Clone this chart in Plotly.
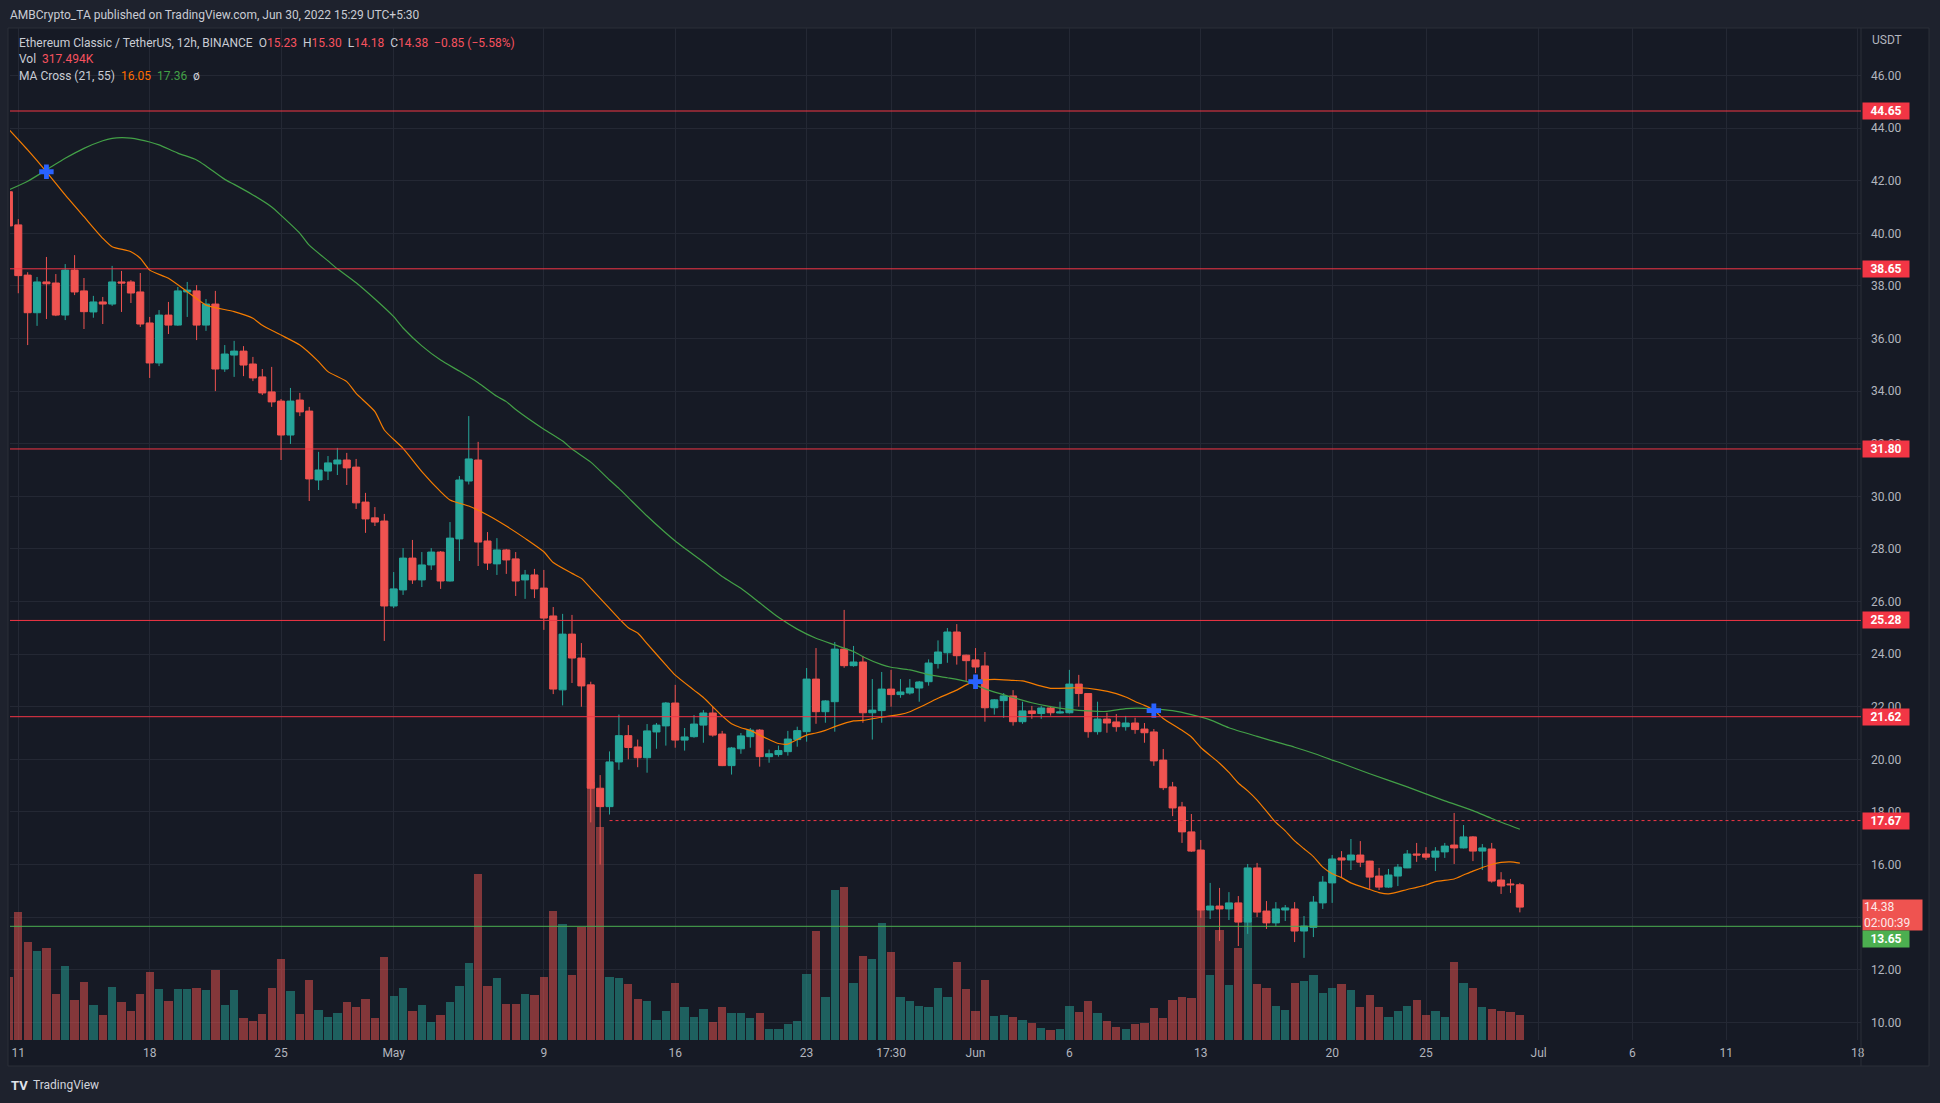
import pandas as pd
import plotly.graph_objects as go

# ETC/USDT 12h candles (Binance), first bar 10 Apr 2022 17:30 UTC+5:30
opens = [41.58, 40.32, 38.41, 36.98, 38.15, 38.11, 36.89, 38.60, 37.81, 37.01,
         37.39, 37.31, 38.15, 38.15, 37.77, 36.59, 35.07, 36.89, 36.51, 37.77,
         37.81, 36.51, 37.31, 34.84, 35.37, 35.52, 35.03, 34.54, 33.97, 33.62,
         32.33, 33.66, 33.24, 30.62, 30.96, 31.23, 31.38, 31.11, 29.78, 29.18,
         29.06, 25.83, 26.44, 27.65, 26.82, 27.39, 27.88, 26.78, 28.38, 30.58,
         31.38, 28.30, 27.43, 27.96, 27.62, 26.82, 27.01, 26.51, 25.45, 22.64,
         24.76, 23.85, 22.83, 18.90, 18.20, 19.90, 20.90, 20.47, 20.06, 21.04,
         21.27, 22.14, 20.73, 20.86, 21.30, 21.76, 20.96, 19.76, 20.40, 20.86,
         21.11, 20.10, 20.18, 20.29, 20.75, 21.05, 23.05, 21.81, 22.19, 24.19,
         23.56, 23.70, 21.77, 21.85, 22.67, 22.46, 22.52, 22.71, 22.95, 23.64,
         24.05, 24.84, 23.96, 23.78, 23.55, 21.96, 22.23, 22.41, 21.43, 21.84,
         21.74, 21.95, 21.76, 21.77, 22.86, 22.50, 21.05, 21.53, 21.42, 21.24,
         21.38, 21.15, 21.04, 19.97, 18.95, 18.19, 17.24, 16.55, 14.27, 14.42,
         14.31, 14.54, 13.81, 15.87, 14.23, 13.78, 14.27, 14.31, 13.47, 13.61,
         14.54, 15.30, 16.25, 16.17, 16.36, 16.13, 15.56, 15.14, 15.56, 15.87,
         16.40, 16.40, 16.28, 16.48, 16.74, 16.63, 17.05, 16.51, 16.59, 15.41,
         15.26, 15.23]
highs = [41.75, 40.54, 38.52, 38.34, 39.10, 38.45, 38.83, 39.17, 38.30, 37.62,
         37.58, 38.76, 38.57, 38.22, 38.49, 36.82, 37.08, 37.39, 37.96, 38.15,
         38.03, 37.50, 37.81, 35.75, 35.91, 35.71, 35.30, 34.84, 34.92, 33.70,
         34.12, 33.93, 33.40, 31.69, 31.53, 31.84, 31.65, 31.42, 30.13, 29.59,
         29.33, 27.12, 28.03, 28.34, 27.88, 28.03, 27.92, 29.02, 30.77, 33.05,
         32.07, 28.64, 28.41, 28.00, 27.88, 27.20, 27.24, 27.20, 25.79, 25.53,
         25.49, 24.42, 22.95, 19.40, 20.30, 21.70, 21.30, 20.75, 21.34, 21.38,
         22.18, 22.83, 21.19, 21.68, 21.87, 21.99, 21.08, 20.47, 21.00, 21.19,
         21.15, 20.37, 20.52, 21.08, 21.24, 23.47, 24.23, 22.25, 24.46, 25.68,
         24.31, 23.93, 23.05, 23.32, 23.40, 23.05, 23.05, 22.98, 23.80, 24.52,
         24.99, 25.14, 23.98, 24.23, 24.08, 22.29, 22.52, 22.63, 22.19, 22.03,
         22.03, 22.03, 22.19, 23.40, 23.21, 22.52, 22.19, 21.77, 21.72, 21.65,
         21.58, 21.38, 21.15, 20.39, 19.14, 18.38, 17.92, 16.93, 15.30, 15.11,
         14.95, 14.80, 16.02, 16.06, 14.61, 14.57, 14.46, 14.57, 14.04, 14.80,
         15.56, 16.36, 16.51, 16.97, 16.89, 16.14, 15.87, 15.83, 16.02, 16.55,
         16.82, 16.66, 16.66, 16.82, 17.96, 17.50, 17.08, 16.78, 16.82, 15.71,
         15.45, 15.30]
lows = [40.20, 37.72, 35.75, 36.48, 36.74, 36.85, 36.70, 37.65, 36.36, 36.79,
        36.55, 37.24, 37.01, 37.35, 36.44, 34.50, 34.95, 36.17, 36.48, 36.82,
        35.94, 36.29, 34.00, 34.73, 34.54, 34.57, 34.38, 33.85, 33.40, 31.38,
        31.99, 33.05, 29.82, 30.24, 30.62, 30.81, 30.43, 29.52, 28.61, 28.87,
        24.50, 25.75, 26.25, 26.67, 26.55, 27.20, 26.48, 26.76, 27.54, 30.45,
        27.35, 27.20, 27.01, 27.05, 26.21, 26.10, 26.13, 24.92, 22.48, 22.05,
        22.90, 22.00, 17.60, 16.00, 17.90, 19.60, 20.00, 19.70, 19.49, 20.40,
        20.52, 20.44, 20.33, 20.82, 20.63, 20.86, 19.74, 19.42, 20.21, 20.44,
        19.72, 19.87, 20.10, 20.14, 20.48, 20.67, 21.35, 21.39, 21.05, 23.48,
        23.52, 21.39, 20.75, 21.39, 22.00, 22.34, 22.46, 22.19, 22.80, 23.45,
        23.67, 23.60, 22.98, 23.28, 21.43, 21.70, 21.58, 21.28, 21.35, 21.54,
        21.54, 21.66, 21.74, 21.74, 22.00, 20.82, 20.94, 21.01, 21.05, 21.09,
        20.97, 20.63, 19.75, 18.83, 17.84, 16.82, 16.48, 13.97, 13.93, 13.09,
        13.89, 12.90, 13.36, 14.00, 13.55, 13.66, 13.85, 13.05, 12.45, 13.24,
        14.31, 14.54, 15.52, 15.79, 15.90, 15.07, 15.03, 15.11, 15.18, 15.86,
        16.10, 16.17, 15.75, 16.25, 16.02, 16.61, 16.13, 15.79, 15.31, 14.88,
        14.92, 14.18]
closes = [40.28, 38.39, 36.98, 38.15, 38.08, 36.89, 38.60, 37.77, 37.02, 37.39,
          37.31, 38.15, 38.11, 37.73, 36.55, 35.07, 36.89, 36.51, 37.81, 37.84,
          36.51, 37.31, 34.84, 35.41, 35.52, 34.99, 34.50, 33.93, 33.59, 32.33,
          33.62, 33.21, 30.66, 31.00, 31.27, 31.38, 31.08, 29.75, 29.14, 29.02,
          25.83, 26.48, 27.65, 26.82, 27.39, 27.88, 26.78, 28.41, 30.62, 31.42,
          28.26, 27.46, 27.96, 27.58, 26.78, 27.01, 26.48, 25.37, 22.67, 24.76,
          23.85, 22.79, 18.90, 18.20, 19.90, 20.90, 20.45, 20.06, 21.08, 21.30,
          22.14, 20.73, 20.85, 21.34, 21.76, 20.92, 19.76, 20.43, 20.89, 21.11,
          20.10, 20.21, 20.33, 20.77, 21.09, 23.05, 21.81, 22.22, 24.19, 23.56,
          23.70, 21.77, 21.87, 22.67, 22.46, 22.56, 22.71, 22.94, 23.66, 24.08,
          24.84, 23.94, 23.75, 23.51, 21.96, 22.26, 22.41, 21.43, 21.84, 21.74,
          21.95, 21.77, 21.80, 22.86, 22.50, 21.05, 21.53, 21.38, 21.24, 21.38,
          21.13, 21.01, 19.94, 18.92, 18.15, 17.24, 16.51, 14.27, 14.42, 14.31,
          14.54, 13.81, 15.87, 14.19, 13.78, 14.31, 14.35, 13.47, 13.66, 14.57,
          15.33, 16.21, 16.17, 16.36, 16.09, 15.52, 15.14, 15.60, 15.90, 16.40,
          16.36, 16.28, 16.51, 16.70, 16.63, 17.05, 16.51, 16.63, 15.37, 15.18,
          15.23, 14.38]
# volume in thousands of ETC
volumes_k = [804, 1625, 1245, 1130, 1168, 584, 940, 508, 737, 444,
             317, 673, 483, 368, 584, 864, 648, 495, 648, 648,
             660, 635, 889, 444, 635, 279, 241, 330, 660, 1029,
             622, 330, 762, 381, 292, 343, 483, 419, 521, 279,
             1054, 559, 660, 368, 444, 229, 317, 483, 686, 978,
             2108, 686, 787, 457, 457, 584, 571, 800, 1638, 1473,
             825, 1435, 3280, 2700, 800, 787, 711, 521, 495, 254,
             368, 724, 419, 292, 394, 229, 419, 343, 343, 279,
             343, 140, 140, 203, 241, 838, 1384, 546, 1905, 1943,
             724, 1067, 1029, 1486, 1118, 546, 495, 432, 419, 660,
             546, 991, 648, 368, 762, 305, 317, 292, 254, 216,
             152, 127, 140, 432, 356, 495, 343, 241, 165, 140,
             203, 216, 406, 279, 508, 546, 533, 1664, 825, 1397,
             698, 1168, 1545, 711, 660, 432, 381, 724, 749, 825,
             597, 660, 711, 635, 419, 571, 419, 292, 368, 432,
             508, 317, 368, 292, 991, 724, 660, 419, 394, 368,
             356, 317]

# MA Cross (21, 55) at these bar numbers
ma_fast_idx = [0, 2, 4, 6, 8, 10, 11, 13, 14, 15, 17, 19, 21, 24, 26, 27, 29, 31, 33, 34,
               36, 37, 39, 40, 42, 44, 46, 47, 49, 51, 53, 55, 57, 58, 60, 61, 62, 64, 65, 66,
               67, 68, 70, 71, 73, 74, 75, 76, 77, 78, 79, 80, 81, 82, 83, 84, 85, 86, 87, 88,
               90, 91, 93, 95, 96, 97, 99, 101, 102, 103, 105, 107, 108, 110, 111, 113, 114, 116, 118, 119,
               120, 121, 122, 123, 125, 126, 127, 129, 130, 131, 132, 133, 135, 136, 137, 138, 139, 140, 141, 142,
               143, 145, 146, 147, 149, 150, 151, 152, 154, 155, 156, 158, 159, 160, 161]
ma_fast = [43.95, 43.17, 42.34, 41.46, 40.63, 39.81, 39.49, 39.30, 39.05, 38.60, 38.29, 37.78, 37.27, 37.02, 36.77, 36.50, 36.13, 35.75, 35.12, 34.74,
           34.36, 33.91, 33.22, 32.52, 31.82, 30.94, 30.18, 29.86, 29.63, 29.29, 28.87, 28.40, 27.89, 27.48, 27.07, 26.88, 26.50, 25.74, 25.35, 25.00,
           24.80, 24.40, 23.59, 23.20, 22.63, 22.35, 22.00, 21.65, 21.35, 21.20, 21.10, 20.92, 20.75, 20.60, 20.58, 20.75, 20.92, 21.00, 21.10, 21.24,
           21.46, 21.48, 21.60, 21.71, 21.81, 21.97, 22.32, 22.63, 22.83, 22.98, 23.04, 23.00, 22.98, 22.78, 22.70, 22.71, 22.72, 22.65, 22.50, 22.37,
           22.20, 22.05, 21.87, 21.55, 21.10, 20.85, 20.45, 19.85, 19.50, 19.10, 18.80, 18.45, 17.60, 17.28, 16.90, 16.60, 16.30, 15.90, 15.65, 15.50,
           15.30, 15.05, 14.93, 14.88, 15.05, 15.13, 15.22, 15.35, 15.45, 15.60, 15.75, 16.00, 16.08, 16.10, 16.05]
ma_slow_idx = [0, 2, 4, 6, 8, 10, 11, 12, 13, 15, 16, 18, 20, 21, 23, 24, 26, 28, 29, 31,
               32, 34, 35, 37, 39, 41, 42, 44, 46, 48, 50, 52, 53, 54, 57, 59, 60, 62, 64, 65,
               66, 68, 71, 74, 76, 78, 80, 82, 84, 86, 88, 90, 91, 93, 94, 96, 98, 100, 102, 104,
               107, 109, 111, 113, 115, 117, 119, 121, 122, 124, 126, 128, 130, 133, 135, 137, 139, 141, 142, 145,
               149, 153, 156, 158, 161]
ma_slow = [41.65, 41.98, 42.41, 42.85, 43.23, 43.52, 43.61, 43.64, 43.62, 43.47, 43.36, 43.05, 42.79, 42.56, 42.05, 41.86, 41.46, 41.00, 40.68, 40.00,
           39.55, 38.95, 38.65, 38.12, 37.50, 36.83, 36.40, 35.72, 35.18, 34.76, 34.32, 33.80, 33.60, 33.30, 32.55, 32.10, 31.80, 31.30, 30.62, 30.30,
           29.95, 29.25, 28.30, 27.50, 26.95, 26.50, 25.95, 25.40, 24.95, 24.60, 24.35, 24.10, 23.90, 23.60, 23.50, 23.40, 23.22, 23.10, 22.96, 22.68,
           22.35, 22.15, 22.00, 21.90, 21.84, 21.82, 21.93, 21.94, 21.92, 21.85, 21.70, 21.50, 21.20, 20.87, 20.66, 20.46, 20.23, 19.97, 19.85, 19.45,
           18.95, 18.42, 18.05, 17.75, 17.34]
cross_idx = [4, 103, 122]
cross_price = [42.34, 22.95, 21.85]

# drawn levels
red_levels = [44.65, 38.65, 31.80, 25.28, 21.62]
dotted_level = 17.67
dotted_start = "2022-05-12 17:30"
green_level = 13.65

tick_dates = ["2022-04-11 05:30", "2022-04-18 05:30", "2022-04-25 05:30", "2022-05-01 05:30",
              "2022-05-09 05:30", "2022-05-16 05:30", "2022-05-23 05:30", "2022-05-27 17:30",
              "2022-06-01 05:30", "2022-06-06 05:30", "2022-06-13 05:30", "2022-06-20 05:30",
              "2022-06-25 05:30", "2022-07-01 05:30", "2022-07-06 05:30", "2022-07-11 05:30",
              "2022-07-18 05:30"]
tick_text = ["11", "18", "25", "May", "9", "16", "23", "17:30", "Jun", "6", "13", "20",
             "25", "Jul", "6", "11", "18"]
price_ticks = list(range(10, 48, 2))

times = pd.date_range("2022-04-10 17:30", periods=len(closes), freq="12h")

UP = "#26a69a"
DOWN = "#ef5350"
UP_VOL = "rgba(38,166,154,0.5)"
DOWN_VOL = "rgba(239,83,80,0.5)"
LINE_RED = "#f23645"
LINE_GREEN = "#4caf50"
OUTER = "#1e222d"
PANE = "#161a25"
GRID = "#242834"
TEXT = "#b2b5be"
FONT = "Roboto, Liberation Sans, sans-serif"

W, H = 1940, 1103
L, R, T, B = 10, 79, 28, 63
PW, PH = W - L - R, H - T - B


def px(x):
    return (x - L) / PW


def py(y):
    return (H - B - y) / PH


fig = go.Figure()

vol_colors = [UP_VOL if c >= o else DOWN_VOL for o, c in zip(opens, closes)]
fig.add_trace(go.Bar(
    x=times, y=volumes_k, marker=dict(color=vol_colors, line=dict(width=0)),
    width=0.88 * 12 * 3600 * 1000, yaxis="y", hoverinfo="skip"
))

fig.add_trace(go.Candlestick(
    x=times, open=opens, high=highs, low=lows, close=closes, yaxis="y2",
    increasing=dict(line=dict(color=UP, width=1), fillcolor=UP),
    decreasing=dict(line=dict(color=DOWN, width=1), fillcolor=DOWN),
    whiskerwidth=0
))

fig.add_trace(go.Scatter(
    x=[times[i] for i in ma_fast_idx], y=ma_fast, yaxis="y2", mode="lines",
    line=dict(color="#f57c00", width=1.2, shape="spline", smoothing=0.6), hoverinfo="skip"
))
fig.add_trace(go.Scatter(
    x=[times[i] for i in ma_slow_idx], y=ma_slow, yaxis="y2", mode="lines",
    line=dict(color="#43a047", width=1.2, shape="spline", smoothing=0.6), hoverinfo="skip"
))
fig.add_trace(go.Scatter(
    x=[times[i] for i in cross_idx], y=cross_price, yaxis="y2", mode="markers",
    marker=dict(symbol="cross", size=12, color="#2962ff", line=dict(width=0)), hoverinfo="skip"
))

shapes = []
# chart frame
shapes.append(dict(type="rect", xref="paper", yref="paper", x0=px(8), x1=px(1929), y0=py(1066), y1=py(28),
                   fillcolor=PANE, line=dict(color="#2a2e39", width=1), layer="below"))
shapes.append(dict(type="line", xref="paper", yref="paper", x0=px(1861), x1=px(1861), y0=py(1066), y1=py(28),
                   line=dict(color="#2a2e39", width=1)))
for lv in red_levels:
    shapes.append(dict(type="line", xref="paper", yref="y2", x0=0, x1=1, y0=lv, y1=lv,
                       line=dict(color=LINE_RED, width=1)))
shapes.append(dict(type="line", xref="x", yref="y2", x0=dotted_start, x1=times[-1] + pd.Timedelta(days=60),
                   y0=dotted_level, y1=dotted_level, line=dict(color=LINE_RED, width=1, dash="dot")))
shapes.append(dict(type="line", xref="paper", yref="y2", x0=0, x1=1, y0=green_level, y1=green_level,
                   line=dict(color=LINE_GREEN, width=1)))

annotations = []
RED_TXT = "#f7525f"
sp = "\u00a0\u00a0"


def red(s):
    return f"<span style='color:{RED_TXT}'>{s}</span>"


chg = closes[-1] - closes[-2]
pct = chg / closes[-2] * 100
line1 = ("Ethereum Classic / TetherUS, 12h, BINANCE" + sp +
         "O" + red(f"{opens[-1]:.2f}") + sp + "H" + red(f"{highs[-1]:.2f}") + sp +
         "L" + red(f"{lows[-1]:.2f}") + sp + "C" + red(f"{closes[-1]:.2f}") + sp +
         red(f"\u2212{abs(chg):.2f} (\u2212{abs(pct):.2f}%)"))
legend_rows = [
    (line1, 42.7),
    ("Vol" + sp + red("317.494K"), 59.3),
    ("MA Cross (21, 55)" + sp + "<span style='color:#ff6d00'>16.05</span>" + sp +
     "<span style='color:#43a047'>17.36</span>" + sp + "\u00f8", 76),
]
for txt, y in legend_rows:
    annotations.append(dict(xref="paper", yref="paper", x=px(17), y=py(y), xanchor="left", yanchor="middle",
                            text=txt, showarrow=False, font=dict(family=FONT, size=12, color="#c9ccd4")))

annotations.append(dict(xref="paper", yref="paper", x=px(8), y=py(15), xanchor="left", yanchor="middle",
                        text="AMBCrypto_TA published on TradingView.com, Jun 30, 2022 15:29 UTC+5:30",
                        showarrow=False, font=dict(family=FONT, size=12, color="#c9ccd4")))
annotations.append(dict(xref="paper", yref="paper", x=px(1870), y=py(40), xanchor="left", yanchor="middle",
                        text="USDT", showarrow=False, font=dict(family=FONT, size=12, color=TEXT)))
annotations.append(dict(xref="paper", yref="paper", x=px(9), y=py(1085), xanchor="left", yanchor="middle",
                        text="<b>TV</b>", showarrow=False, font=dict(family=FONT, size=13, color="#e0e3eb")))
annotations.append(dict(xref="paper", yref="paper", x=px(31), y=py(1085), xanchor="left", yanchor="middle",
                        text="TradingView", showarrow=False, font=dict(family=FONT, size=12, color="#d1d4dc")))

# price axis labels
for lv in red_levels + [dotted_level]:
    annotations.append(dict(xref="paper", yref="y2", x=px(1862), y=lv, xanchor="left", yanchor="middle",
                            text=f"<b>{lv:.2f}</b>", showarrow=False, bgcolor=LINE_RED, width=44, height=14,
                            borderpad=1, align="center", font=dict(family=FONT, size=12, color="#ffffff")))
annotations.append(dict(xref="paper", yref="y2", x=px(1862), y=closes[-1], xanchor="left", yanchor="top",
                        yshift=8, text=f"{closes[-1]:.2f}<br>02:00:39", showarrow=False, bgcolor=DOWN,
                        width=57, height=28, borderpad=1, align="left",
                        font=dict(family=FONT, size=12, color="#fde9e9")))
annotations.append(dict(xref="paper", yref="y2", x=px(1862), y=green_level, xanchor="left", yanchor="middle",
                        yshift=-13, text=f"<b>{green_level:.2f}</b>", showarrow=False, bgcolor=LINE_GREEN,
                        width=44, height=14, borderpad=1, align="center",
                        font=dict(family=FONT, size=12, color="#ffffff")))

fig.update_layout(
    width=W, height=H,
    margin=dict(l=L, r=R, t=T, b=B),
    paper_bgcolor=OUTER, plot_bgcolor=PANE,
    showlegend=False, boxgap=0.25, boxgroupgap=0, bargap=0,
    font=dict(family=FONT, size=12, color=TEXT),
    xaxis=dict(
        type="date", range=["2022-04-10 18:54", "2022-07-18 09:42"],
        tickvals=tick_dates, ticktext=tick_text, showgrid=True, gridcolor=GRID, gridwidth=1,
        zeroline=False, showline=False, ticks="", rangeslider=dict(visible=False),
        tickfont=dict(family=FONT, size=12, color=TEXT), ticklabelstandoff=4
    ),
    yaxis=dict(range=[0, 12852], visible=False, fixedrange=True),
    yaxis2=dict(
        overlaying="y", side="right", range=[9.327, 47.806], tickvals=price_ticks, tickformat=".2f",
        showgrid=True, gridcolor=GRID, gridwidth=1, zeroline=False, showline=False, ticks="",
        tickfont=dict(family=FONT, size=12, color=TEXT), ticklabelstandoff=9
    ),
    shapes=shapes,
    annotations=annotations,
)

# page body has a default 8px margin; drop it so the figure fills the window exactly
fig.write_html("out.html", config={"displayModeBar": False},
               post_script="document.body.style.margin='0';")
